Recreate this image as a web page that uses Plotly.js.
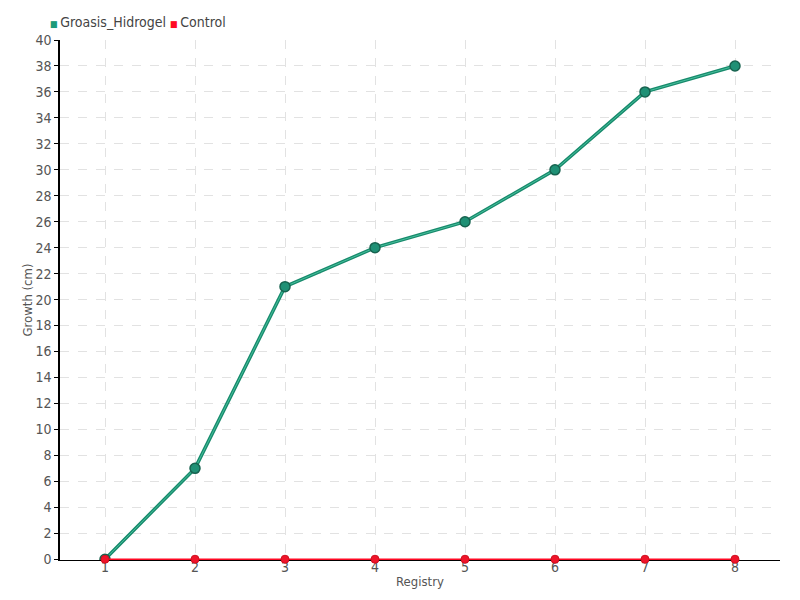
<!DOCTYPE html>
<html><head><meta charset="utf-8">
<script src="https://cdn.plot.ly/plotly-3.0.1.min.js"></script>
<style>body{margin:0;}#chart{width:800px;height:600px;}</style>
</head><body><div id="chart"></div>
<script>
const registry = [1, 2, 3, 4, 5, 6, 7, 8];
const groasisHidrogel = [0, 7, 21, 24, 26, 30, 36, 38];
const control = [0, 0, 0, 0, 0, 0, 0, 0];
const yTicks = [0,2,4,6,8,10,12,14,16,18,20,22,24,26,28,30,32,34,36,38,40];
const seriesNames = ['Groasis_Hidrogel', 'Control'];

const green = '#1b9a79';
const red = '#ff0a24';
const font = "'DejaVu Sans Condensed', 'Liberation Sans Narrow', 'Noto Sans', sans-serif";

const traces = [
  {x: registry, y: groasisHidrogel, mode: 'lines', name: seriesNames[0], showlegend: false, hoverinfo: 'skip',
   line: {color: '#178a6c', width: 3.5}},
  {x: registry, y: groasisHidrogel, mode: 'lines+markers', name: seriesNames[0], showlegend: false,
   line: {color: '#47bf9c', width: 1}, marker: {size: 10, color: '#1f9075', line: {color: '#17624f', width: 1.5}}},
  {x: registry, y: control, mode: 'lines+markers', name: seriesNames[1], showlegend: false, cliponaxis: false,
   line: {color: red, width: 1.5}, marker: {size: 8, color: '#f0142a', line: {color: '#d01020', width: 1}}}
];

const layout = {
  width: 800, height: 600,
  margin: {l: 60, r: 20, t: 40, b: 40, autoexpand: false},
  paper_bgcolor: '#fff', plot_bgcolor: '#fff',
  font: {family: font, size: 13, color: '#555'},
  showlegend: false,
  annotations: [{
    xref: 'paper', yref: 'paper', x: -0.017, y: 1.0, xanchor: 'left', yanchor: 'bottom', yshift: 8,
    showarrow: false, font: {family: font, size: 14, color: '#444'},
    text: '<span style="color:' + green + ';font-size:9px">■ </span>' + seriesNames[0] +
          ' <span style="color:' + red + ';font-size:9px">■ </span>' + seriesNames[1]
  }],
  xaxis: {range: [0.5, 8.5], tickvals: registry, ticktext: registry.map(String),
    showgrid: true, gridcolor: '#e2e2e2', griddash: 'dash', zeroline: false, layer: 'below traces',
    showline: true, linecolor: '#000', linewidth: 1, ticks: '', ticklen: 0, ticklabelstandoff: -6,
    title: {text: 'Registry', standoff: 3, font: {family: font, size: 13, color: '#555'}},
    tickfont: {family: font, size: 14, color: '#555'}},
  yaxis: {range: [-0.06, 40], tickvals: yTicks, ticktext: yTicks.map(String),
    showgrid: true, gridcolor: '#e2e2e2', griddash: 'dash', zeroline: false, layer: 'below traces',
    showline: true, linecolor: '#000', linewidth: 1.5, ticks: 'outside', ticklen: 4, tickcolor: '#000',
    ticklabelstandoff: 0,
    title: {text: 'Growth (cm)', standoff: 0, font: {family: font, size: 13, color: '#555'}},
    tickfont: {family: font, size: 14, color: '#555'}}
};

Plotly.newPlot('chart', traces, layout, {displayModeBar: false});
</script></body></html>
